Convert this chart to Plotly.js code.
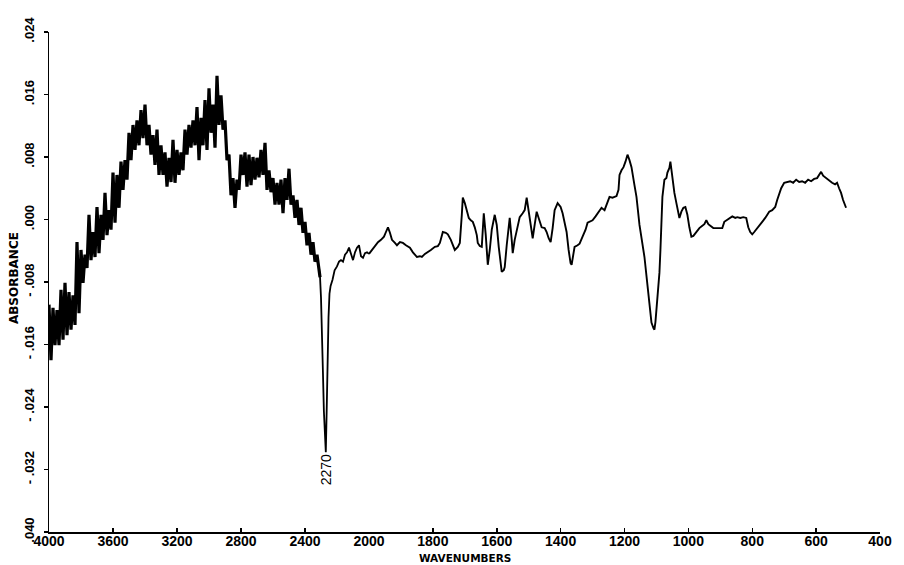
<!DOCTYPE html>
<html>
<head>
<meta charset="utf-8">
<script src="https://cdn.plot.ly/plotly-3.0.1.min.js"></script>
<style>
  html, body { margin: 0; padding: 0; background: #ffffff; }
  #chart { width: 904px; height: 565px; }
</style>
</head>
<body>
<div id="chart"></div>
<script>
// IR absorbance spectrum, 4000-2000 cm-1 (compressed scale) and 2000-400 cm-1 (expanded scale)

// High-wavenumber section (4000 -> 2000 cm-1)
const hiWavenumber = [
  4000, 3987.5, 3975, 3962.5, 3950, 3937.5, 3925, 3912.5, 3900, 3887.5,
  3875, 3862.5, 3850, 3837.5, 3825, 3812.5, 3800, 3787.5, 3775, 3762.5,
  3750, 3737.5, 3725, 3712.5, 3700, 3687.5, 3675, 3662.5, 3650, 3637.5,
  3625, 3612.5, 3600, 3587.5, 3575, 3562.5, 3550, 3537.5, 3525, 3512.5,
  3500, 3487.5, 3475, 3462.5, 3450, 3437.5, 3425, 3412.5, 3400, 3387.5,
  3375, 3362.5, 3350, 3337.5, 3325, 3312.5, 3300, 3287.5, 3275, 3262.5,
  3250, 3237.5, 3225, 3212.5, 3200, 3187.5, 3175, 3162.5, 3150, 3137.5,
  3125, 3112.5, 3100, 3087.5, 3075, 3062.5, 3050, 3037.5, 3025, 3012.5,
  3000, 2987.5, 2975, 2962.5, 2950, 2937.5, 2925, 2912.5, 2900, 2887.5,
  2875, 2862.5, 2850, 2837.5, 2825, 2812.5, 2800, 2787.5, 2775, 2762.5,
  2750, 2737.5, 2725, 2712.5, 2700, 2687.5, 2675, 2662.5, 2650, 2637.5,
  2625, 2612.5, 2600, 2587.5, 2575, 2562.5, 2550, 2537.5, 2525, 2512.5,
  2500, 2487.5, 2475, 2462.5, 2450, 2437.5, 2425, 2412.5, 2400, 2387.5,
  2375, 2362.5, 2350, 2337.5, 2325, 2312.5,
  2306, 2300, 2294, 2288, 2282, 2276, 2270, 2265, 2259, 2253,
  2247, 2240, 2228, 2215, 2200, 2187.5, 2175, 2162.5, 2150, 2137.5,
  2125, 2112.5, 2100, 2087.5, 2075, 2062.5, 2050, 2037.5, 2025, 2012.5,
  2000
];
const hiAbsorbance = [
  -.0109, -.0180, -.0113, -.0161, -.0116, -.0161, -.0090, -.0154, -.0081, -.0148,
  -.0093, -.0141, -.0097, -.0135, -.0029, -.0120, -.0039, -.0081, -.0045, -.0062,
  .0006, -.0052, -.0016, -.0048, .0016, -.0043, .0006, -.0026, .0034, -.0020,
  .0012, -.0013, .0060, -.0004, .0057, .0015, .0074, .0038, .0076, .0051,
  .0111, .0076, .0121, .0089, .0127, .0095, .0140, .0104, .0147, .0095,
  .0121, .0083, .0108, .0070, .0115, .0057, .0095, .0057, .0086, .0042,
  .0079, .0048, .0102, .0047, .0089, .0057, .0086, .0063, .0115, .0083,
  .0121, .0092, .0127, .0095, .0144, .0076, .0130, .0095, .0153, .0089,
  .0168, .0111, .0147, .0092, .0184, .0121, .0159, .0115, .0127, .0076,
  .0083, .0031, .0053, .0015, .0051, .0038, .0083, .0057, .0086, .0042,
  .0083, .0044, .0080, .0051, .0079, .0054, .0089, .0057, .0098, .0038,
  .0063, .0035, .0053, .0019, .0047, .0019, .0051, .0008, .0053, .0025,
  .0065, .0019, .0031, .0002, .0025, -.0007, .0015, -.0017, -.0003, -.0033,
  -.0017, -.0045, -.0029, -.0054, -.0045, -.0062,
  -.0074, -.0100, -.0138, -.0195, -.0245, -.0285, -.0298, -.0250, -.0175, -.0125,
  -.0095, -.0085, -.0077, -.0065, -.0060, -.0054, -.0052, -.0054, -.0045, -.0042,
  -.0036, -.0044, -.0052, -.0042, -.0036, -.0033, -.0047, -.0049, -.0043, -.0042,
  -.0044
];
// Number of leading points that belong to the noisy O-H / C-H region
const noisyCount = 136;

// Low-wavenumber section (2000 -> ~506 cm-1)
const loWavenumber = [
  2000, 1990.6, 1981.3, 1971.9, 1962.5, 1953.1, 1946.9, 1940.6, 1934.4, 1928.1,
  1918.8, 1912.5, 1903.1, 1893.8, 1884.4, 1871.9, 1862.5, 1850, 1840.6, 1834.4,
  1825, 1815.6, 1806.3, 1793.8, 1784.4, 1778.1, 1771.9, 1768.8, 1759.4, 1753.1,
  1743.8, 1731.3, 1721.9, 1715.6, 1709.4, 1706.3, 1700, 1693.8, 1687.5, 1681.3,
  1675, 1668.8, 1662.5, 1659.4, 1653.1, 1646.9, 1640.6, 1634.4, 1628.1, 1621.9,
  1615.6, 1606.3, 1600, 1593.8, 1584.4, 1578.1, 1575, 1568.8, 1559.4, 1553.1,
  1550, 1543.8, 1537.5, 1528.1, 1518.8, 1512.5, 1506.3, 1500, 1493.8, 1487.5,
  1481.3, 1475, 1468.8, 1459.4, 1450, 1443.8, 1437.5, 1431.3, 1425, 1418.8,
  1409.4, 1400, 1393.8, 1387.5, 1381.3, 1375, 1368.8, 1365.6, 1359.4, 1356.3,
  1346.9, 1340.6, 1331.3, 1321.9, 1315.6, 1306.3, 1300, 1290.6, 1281.3, 1271.9,
  1262.5, 1253.1, 1246.9, 1237.5, 1225, 1218.8, 1215.6, 1209.4, 1203.1, 1196.9,
  1190.6, 1184.4, 1178.1, 1168.8, 1162.5, 1153.1, 1143.8, 1137.5, 1128.1, 1121.9,
  1115.6, 1109.4, 1106.3, 1103.1, 1100, 1093.8, 1090.6, 1087.5, 1084.4, 1081.3,
  1075, 1068.8, 1065.6, 1059.4, 1056.3, 1053.1, 1050, 1043.8, 1037.5, 1031.3,
  1028.1, 1021.9, 1015.6, 1009.4, 1003.1, 996.9, 990.6, 984.4, 975, 965.6,
  956.3, 950, 943.8, 937.5, 931.3, 921.9, 912.5, 903.1, 893.8, 887.5,
  881.3, 871.9, 862.5, 853.1, 846.9, 837.5, 828.1, 818.8, 812.5, 806.3,
  800, 793.8, 787.5, 778.1, 768.8, 759.4, 753.1, 746.9, 737.5, 728.1,
  721.9, 715.6, 709.4, 700, 690.6, 681.3, 671.9, 662.5, 653.1, 643.8,
  634.4, 625, 615.6, 606.3, 596.9, 590.6, 584.4, 578.1, 568.8, 559.4,
  550, 540.6, 534.4, 528.1, 521.9, 515.6, 509.4, 506.3
];
const loAbsorbance = [
  -.0044, -.0039, -.0034, -.0029, -.0026, -.0022, -.0016, -.0010, -.0017, -.0026,
  -.0030, -.0033, -.0029, -.0030, -.0033, -.0036, -.0042, -.0048, -.0047, -.0048,
  -.0044, -.0042, -.0039, -.0035, -.0034, -.0030, -.0021, -.0016, -.0017, -.0019,
  -.0026, -.0039, -.0035, -.0030, .0006, .0028, .0021, .0012, .0002, -.0001,
  -.0003, -.0010, -.0020, -.0030, -.0034, -.0035, .0008, -.0020, -.0058, -.0039,
  -.0013, .0006, -.0007, -.0035, -.0067, -.0065, -.0061, -.0033, .0002, -.0026,
  -.0043, -.0026, -.0013, .0003, .0008, .0012, .0028, .0010, -.0007, -.0024,
  -.0007, .0010, .0002, -.0010, -.0011, -.0016, -.0024, -.0029, -.0011, .0012,
  .0021, .0016, .0008, -.0003, -.0016, -.0039, -.0056, -.0058, -.0045, -.0035,
  -.0033, -.0031, -.0022, -.0013, -.0004, -.0002, -.0001, .0004, .0010, .0015,
  .0012, .0022, .0029, .0028, .0030, .0038, .0057, .0063, .0067, .0074,
  .0083, .0076, .0067, .0044, .0029, -.0007, -.0033, -.0048, -.0084, -.0109,
  -.0132, -.0139, -.0141, -.0131, -.0116, -.0090, -.0068, -.0039, -.0007, .0029,
  .0051, .0053, .0060, .0066, .0074, .0063, .0051, .0034, .0021, .0006,
  .0002, .0010, .0015, .0016, .0006, -.0010, -.0022, -.0021, -.0016, -.0011,
  -.0008, -.0006, -.0001, -.0006, -.0008, -.0011, -.0011, -.0011, -.0011, -.0003,
  -.0001, .0002, .0004, .0002, .0003, .0002, .0003, .0002, -.0010, -.0016,
  -.0019, -.0016, -.0013, -.0008, -.0003, .0002, .0007, .0010, .0012, .0016,
  .0025, .0034, .0040, .0047, .0048, .0049, .0047, .0051, .0048, .0049,
  .0047, .0051, .0049, .0052, .0053, .0057, .0061, .0056, .0053, .0049,
  .0047, .0045, .0047, .0040, .0034, .0025, .0019, .0015
];

// Axis ticks
const hiTickVals = [4000, 3600, 3200, 2800, 2400, 2000];
const hiTickText = ['4000', '3600', '3200', '2800', '2400', '2000'];
const loTickVals = [1800, 1600, 1400, 1200, 1000, 800, 600, 400];
const loTickText = ['1800', '1600', '1400', '1200', '1000', '800', '600', '400'];
const absTickVals = [-0.040, -0.032, -0.024, -0.016, -0.008, 0.000, 0.008, 0.016, 0.024];
const absTickText = ['.040', '- .032', '- .024', '- .016', '- .008', '.000', '.008', '.016', '.024'];

// Band marker
const bandLabel = '2270';
const bandWavenumber = 2270;

const ink = '#000000';

const traces = [
  // noisy region drawn with a heavier pen so the fast oscillation reads as a band
  { x: hiWavenumber.slice(0, noisyCount + 1), y: hiAbsorbance.slice(0, noisyCount + 1),
    xaxis: 'x', yaxis: 'y', type: 'scatter', mode: 'lines',
    line: { color: ink, width: 3.2 }, hoverinfo: 'skip' },
  { x: hiWavenumber.slice(noisyCount - 1), y: hiAbsorbance.slice(noisyCount - 1),
    xaxis: 'x', yaxis: 'y', type: 'scatter', mode: 'lines',
    line: { color: ink, width: 1.8 }, hoverinfo: 'skip' },
  { x: loWavenumber, y: loAbsorbance, xaxis: 'x2', yaxis: 'y', type: 'scatter', mode: 'lines',
    line: { color: ink, width: 1.9 }, hoverinfo: 'skip' }
];

const split = 320 / 831;
const tickFontX = { family: 'Liberation Sans, Arial, sans-serif', size: 14, color: ink, weight: 'bold' };
const commonX = {
  showgrid: false, zeroline: false, showline: true, linecolor: ink, linewidth: 1.5,
  ticks: 'inside', ticklen: 4, tickwidth: 1.5, tickcolor: ink,
  tickmode: 'array', tickfont: tickFontX, anchor: 'y', fixedrange: true,
  ticklabelstandoff: -4
};

const layout = {
  width: 904, height: 565,
  margin: { l: 49, r: 24, t: 32, b: 33, autoexpand: false },
  paper_bgcolor: '#ffffff', plot_bgcolor: '#ffffff',
  showlegend: false,
  xaxis: Object.assign({}, commonX, { domain: [0, split], range: [4000, 2000], tickvals: hiTickVals, ticktext: hiTickText }),
  xaxis2: Object.assign({}, commonX, { domain: [split, 1], range: [2000, 400], tickvals: loTickVals, ticktext: loTickText }),
  yaxis: {
    range: [-0.040, 0.024], anchor: 'x',
    showgrid: false, zeroline: false, showline: true, linecolor: ink, linewidth: 1.5,
    ticks: 'outside', ticklen: 4, tickwidth: 1.5, tickcolor: ink,
    tickmode: 'array', tickvals: absTickVals, ticktext: absTickText,
    tickangle: -90, ticklabelstandoff: 4,
    tickfont: { family: 'Liberation Sans, Arial, sans-serif', size: 13, color: ink, weight: 'bold' },
    fixedrange: true
  },
  annotations: [
    { text: 'WAVENUMBERS', xref: 'paper', yref: 'paper', x: 0.5, y: -0.051, xanchor: 'center', yanchor: 'middle',
      showarrow: false, font: { family: 'DejaVu Sans, sans-serif', size: 10.5, color: ink, weight: 'bold' } },
    { text: 'ABSORBANCE', xref: 'paper', yref: 'paper', x: -0.042, y: 0.508, xanchor: 'center', yanchor: 'middle',
      textangle: -90, showarrow: false, font: { family: 'DejaVu Sans, sans-serif', size: 12, color: ink, weight: 'bold' } },
    { text: bandLabel, xref: 'x', yref: 'y', x: bandWavenumber, y: -0.0320, xanchor: 'center', yanchor: 'middle',
      textangle: -90, showarrow: false, font: { family: 'Liberation Sans, Arial, sans-serif', size: 14, color: ink } }
  ]
};

Plotly.newPlot('chart', traces, layout, { staticPlot: true, displayModeBar: false });
</script>
</body>
</html>
